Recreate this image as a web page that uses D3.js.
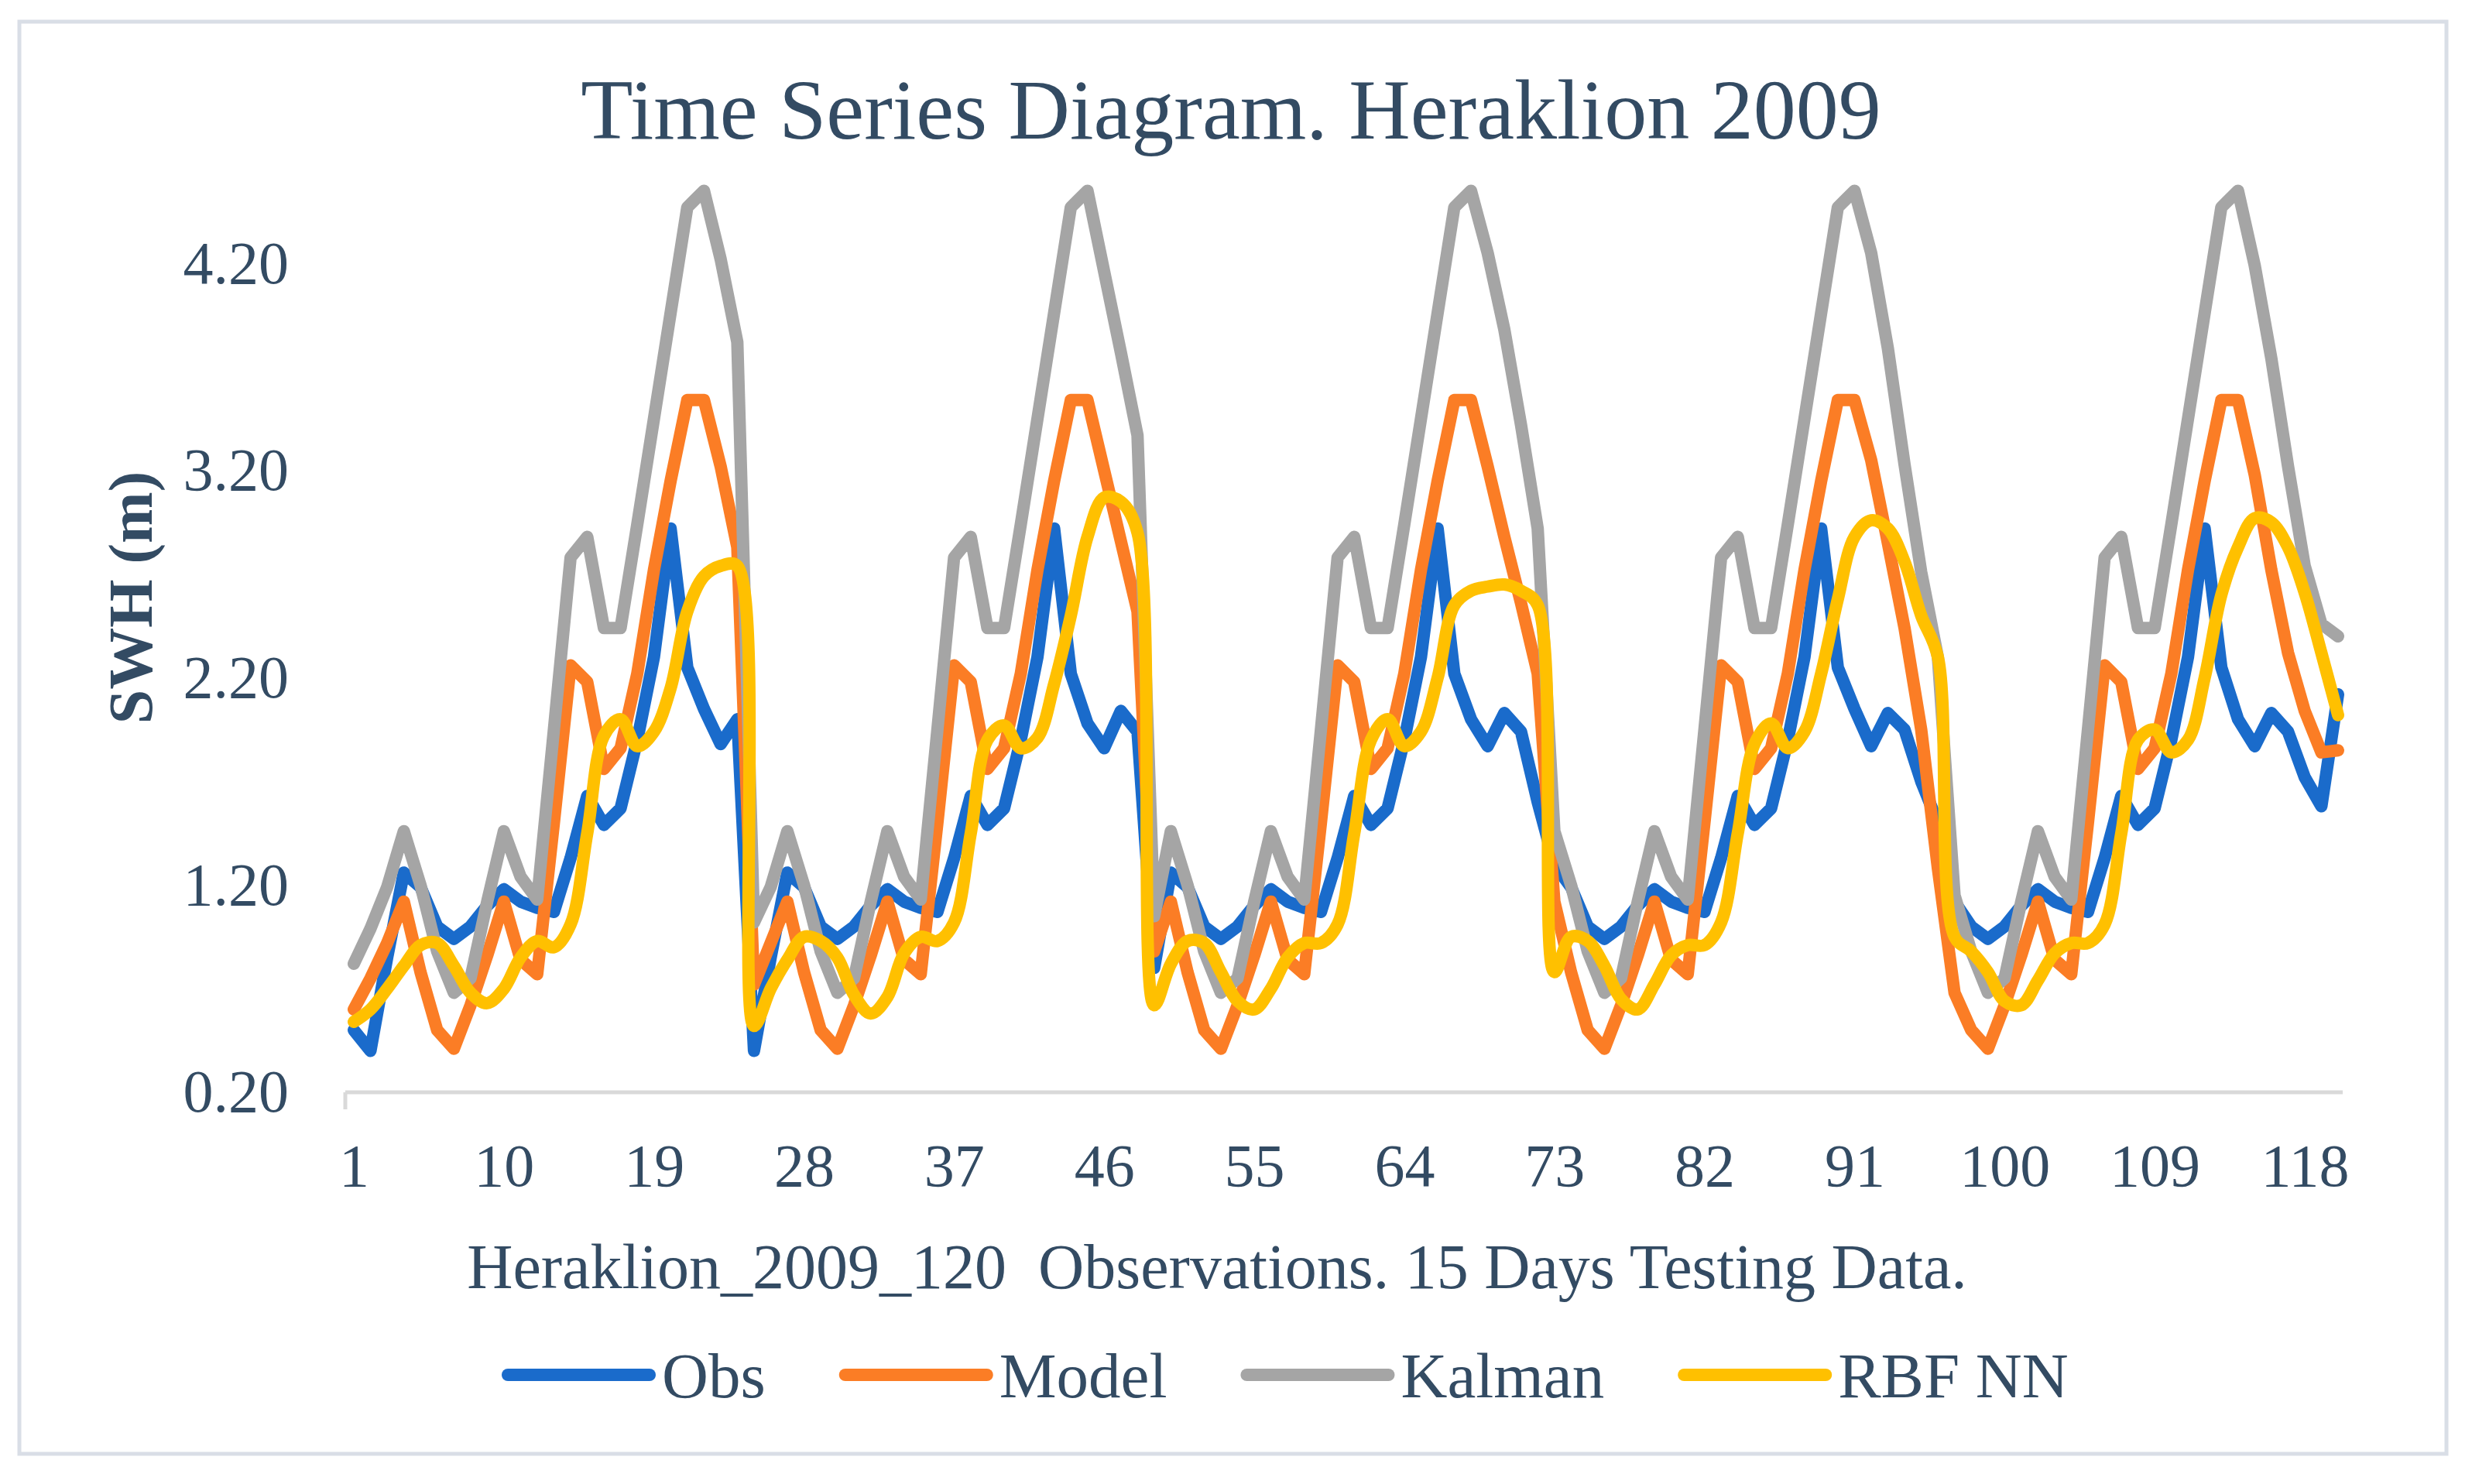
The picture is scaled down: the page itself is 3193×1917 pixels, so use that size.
<!DOCTYPE html>
<html>
<head>
<meta charset="utf-8">
<script src="https://cdn.jsdelivr.net/npm/d3@7/dist/d3.min.js"></script>
<style>
  body { margin: 0; background: #fff; }
  svg { display: block; }
</style>
</head>
<body>
<svg></svg>
<script>
const width = 3193;
const height = 1917;

// 120 observations, labels every 9th day
const days = d3.range(1, 121);
const dayTicks = [1, 10, 19, 28, 37, 46, 55, 64, 73, 82, 91, 100, 109, 118];
const swhTicks = [0.2, 1.2, 2.2, 3.2, 4.2];

const seriesNames = ['Obs', 'Model', 'Kalman', 'RBF NN'];
const seriesColors = ['#1a6bcb', '#fb7d25', '#a5a5a5', '#ffc000'];

const obs = [
  0.50, 0.40, 0.85, 1.26, 1.19, 1.00, 0.94, 1.00, 1.10, 1.18, 1.12, 1.09, 1.07, 1.33, 1.63, 1.49, 1.57, 1.90, 2.30, 2.92, 2.25, 2.05, 1.88, 2.00,
  0.40, 0.85, 1.26, 1.19, 1.00, 0.94, 1.00, 1.10, 1.18, 1.12, 1.09, 1.07, 1.33, 1.63, 1.49, 1.57, 1.90, 2.30, 2.92, 2.22, 1.98, 1.86, 2.04, 1.94,
  0.80, 1.26, 1.19, 1.00, 0.94, 1.00, 1.10, 1.18, 1.12, 1.09, 1.07, 1.33, 1.63, 1.49, 1.57, 1.90, 2.30, 2.92, 2.22, 2.00, 1.87, 2.03, 1.94, 1.60,
  1.30, 1.19, 1.00, 0.94, 1.00, 1.10, 1.18, 1.12, 1.09, 1.07, 1.33, 1.63, 1.49, 1.57, 1.90, 2.30, 2.92, 2.25, 2.05, 1.87, 2.03, 1.95, 1.70, 1.50,
  1.12, 1.00, 0.94, 1.00, 1.10, 1.18, 1.12, 1.09, 1.07, 1.33, 1.63, 1.49, 1.57, 1.90, 2.30, 2.92, 2.25, 2.00, 1.87, 2.03, 1.94, 1.72, 1.58, 2.12
];

const model = [
  0.60, 0.75, 0.92, 1.12, 0.78, 0.50, 0.41, 0.62, 0.86, 1.12, 0.84, 0.77, 1.50, 2.26, 2.18, 1.76, 1.86, 2.22, 2.72, 3.15, 3.54, 3.54, 3.22, 2.83,
  0.72, 0.92, 1.12, 0.78, 0.50, 0.41, 0.62, 0.86, 1.12, 0.84, 0.77, 1.50, 2.26, 2.18, 1.76, 1.86, 2.22, 2.72, 3.15, 3.54, 3.54, 3.20, 2.86, 2.52,
  0.88, 1.12, 0.78, 0.50, 0.41, 0.62, 0.86, 1.12, 0.84, 0.77, 1.50, 2.26, 2.18, 1.76, 1.86, 2.22, 2.72, 3.15, 3.54, 3.54, 3.22, 2.88, 2.56, 2.22,
  1.12, 0.78, 0.50, 0.41, 0.62, 0.86, 1.12, 0.84, 0.77, 1.50, 2.26, 2.18, 1.76, 1.86, 2.22, 2.72, 3.15, 3.54, 3.54, 3.25, 2.85, 2.44, 1.95, 1.28,
  0.68, 0.50, 0.41, 0.62, 0.86, 1.12, 0.84, 0.77, 1.50, 2.26, 2.18, 1.76, 1.86, 2.22, 2.72, 3.15, 3.54, 3.54, 3.18, 2.72, 2.32, 2.04, 1.84, 1.85
];

const kalman = [
  0.82, 0.99, 1.19, 1.46, 1.20, 0.88, 0.68, 0.75, 1.12, 1.46, 1.24, 1.13, 1.95, 2.78, 2.88, 2.44, 2.44, 2.94, 3.45, 3.96, 4.47, 4.55, 4.22, 3.82,
  1.02, 1.19, 1.46, 1.20, 0.88, 0.68, 0.75, 1.12, 1.46, 1.24, 1.13, 1.95, 2.78, 2.88, 2.44, 2.44, 2.94, 3.45, 3.96, 4.47, 4.55, 4.16, 3.77, 3.37,
  1.05, 1.46, 1.20, 0.88, 0.68, 0.75, 1.12, 1.46, 1.24, 1.13, 1.95, 2.78, 2.88, 2.44, 2.44, 2.94, 3.45, 3.96, 4.47, 4.55, 4.25, 3.88, 3.42, 2.92,
  1.46, 1.20, 0.88, 0.68, 0.75, 1.12, 1.46, 1.24, 1.13, 1.95, 2.78, 2.88, 2.44, 2.44, 2.94, 3.45, 3.96, 4.47, 4.55, 4.25, 3.79, 3.23, 2.71, 2.30,
  1.15, 0.88, 0.68, 0.75, 1.12, 1.46, 1.24, 1.13, 1.95, 2.78, 2.88, 2.44, 2.44, 2.94, 3.45, 3.96, 4.47, 4.55, 4.19, 3.74, 3.22, 2.74, 2.46, 2.40
];

const rbfNN = [
  0.54, 0.60, 0.70, 0.81, 0.91, 0.92, 0.81, 0.68, 0.63, 0.70, 0.85, 0.93, 0.90, 1.01, 1.45, 1.92, 2.00, 1.87, 1.94, 2.15, 2.52, 2.69, 2.74, 2.74,
  0.52, 0.70, 0.84, 0.95, 0.93, 0.85, 0.67, 0.58, 0.66, 0.87, 0.95, 0.93, 1.02, 1.45, 1.90, 1.97, 1.86, 1.91, 2.17, 2.50, 2.88, 3.07, 3.05, 2.90,
  0.62, 0.82, 0.93, 0.92, 0.78, 0.64, 0.60, 0.70, 0.85, 0.92, 0.92, 1.01, 1.45, 1.90, 2.00, 1.87, 1.94, 2.20, 2.55, 2.62, 2.64, 2.65, 2.62, 2.55,
  0.78, 0.95, 0.93, 0.81, 0.65, 0.60, 0.72, 0.86, 0.91, 0.91, 1.02, 1.45, 1.88, 1.98, 1.86, 1.94, 2.22, 2.58, 2.88, 2.96, 2.92, 2.76, 2.50, 2.30,
  0.95, 0.88, 0.78, 0.64, 0.62, 0.74, 0.87, 0.92, 0.92, 1.01, 1.45, 1.90, 1.95, 1.84, 1.90, 2.20, 2.60, 2.83, 2.97, 2.95, 2.83, 2.61, 2.32, 2.02
];

const seriesValues = [obs, model, kalman, rbfNN];

const textColor = '#334b63';
const serif = '"Liberation Serif", "Times New Roman", serif';

const svg = d3.select('svg')
    .attr('width', width)
    .attr('height', height)
    .style('font-family', serif);

svg.append('rect')
    .attr('x', 25)
    .attr('y', 28)
    .attr('width', 3135)
    .attr('height', 1850)
    .attr('fill', '#fff')
    .attr('stroke', '#d9dee6')
    .attr('stroke-width', 5);

const x = d3.scaleLinear()
    .domain([1, 120])
    .range([457, 3020]);

const y = d3.scaleLinear()
    .domain([0.2, 4.6])
    .range([1411, 233]);

// title
svg.append('text')
    .attr('x', 1590)
    .attr('y', 179)
    .attr('text-anchor', 'middle')
    .attr('font-size', 110)
    .attr('fill', textColor)
    .text('Time Series Diagram. Heraklion 2009');

// y axis labels
const yAxis = svg.append('g')
    .attr('transform', 'translate(446,0)')
    .call(d3.axisLeft(y).tickValues(swhTicks).tickFormat(d3.format('.2f')).tickSize(0).tickPadding(73));
yAxis.select('.domain').remove();
yAxis.selectAll('text')
    .attr('font-family', serif)
    .attr('font-size', 78)
    .attr('fill', textColor);

// category axis
svg.append('line')
    .attr('x1', 446)
    .attr('x2', 3026)
    .attr('y1', y(0.2))
    .attr('y2', y(0.2))
    .attr('stroke', '#d9d9d9')
    .attr('stroke-width', 5);

svg.append('line')
    .attr('x1', 446)
    .attr('x2', 446)
    .attr('y1', y(0.2))
    .attr('y2', y(0.2) + 22)
    .attr('stroke', '#d9d9d9')
    .attr('stroke-width', 5);

const xAxis = svg.append('g')
    .attr('transform', `translate(0,${y(0.2)})`)
    .call(d3.axisBottom(x).tickValues(dayTicks).tickFormat(d3.format('d')).tickSize(0).tickPadding(66));
xAxis.select('.domain').remove();
xAxis.selectAll('text')
    .attr('font-family', serif)
    .attr('font-size', 78)
    .attr('fill', textColor);

// axis titles
svg.append('text')
    .attr('transform', 'translate(169,772) rotate(-90)')
    .attr('text-anchor', 'middle')
    .attr('dominant-baseline', 'central')
    .attr('font-size', 80)
    .attr('font-weight', 'bold')
    .attr('fill', textColor)
    .text('SWH (m)');

svg.append('text')
    .attr('x', 1572)
    .attr('y', 1664)
    .attr('text-anchor', 'middle')
    .attr('font-size', 82)
    .attr('fill', textColor)
    .style('white-space', 'pre')
    .text('Heraklion_2009_120  Observations. 15 Days Testing Data.');

// series
const line = d3.line()
    .x((d, i) => x(days[i]))
    .y(d => y(d));

const smoothLine = d3.line()
    .x((d, i) => x(days[i]))
    .y(d => y(d))
    .curve(d3.curveCatmullRom.alpha(0.5));

svg.append('g')
    .selectAll('path')
    .data(seriesValues)
    .join('path')
      .attr('d', (d, i) => seriesNames[i] === 'RBF NN' ? smoothLine(d) : line(d))
      .attr('fill', 'none')
      .attr('stroke', (d, i) => seriesColors[i])
      .attr('stroke-width', 16)
      .attr('stroke-linejoin', 'round')
      .attr('stroke-linecap', 'round');

// legend
const legend = svg.append('g');
let legendX = 656;
seriesNames.forEach((name, i) => {
  legend.append('line')
      .attr('x1', legendX)
      .attr('x2', legendX + 183)
      .attr('y1', 1776)
      .attr('y2', 1776)
      .attr('stroke', seriesColors[i])
      .attr('stroke-width', 16)
      .attr('stroke-linecap', 'round');
  const label = legend.append('text')
      .attr('x', legendX + 199)
      .attr('y', 1805)
      .attr('font-size', 83)
      .attr('fill', textColor)
      .text(name);
  legendX += 199 + label.node().getComputedTextLength() + 103;
});
</script>
</body>
</html>
